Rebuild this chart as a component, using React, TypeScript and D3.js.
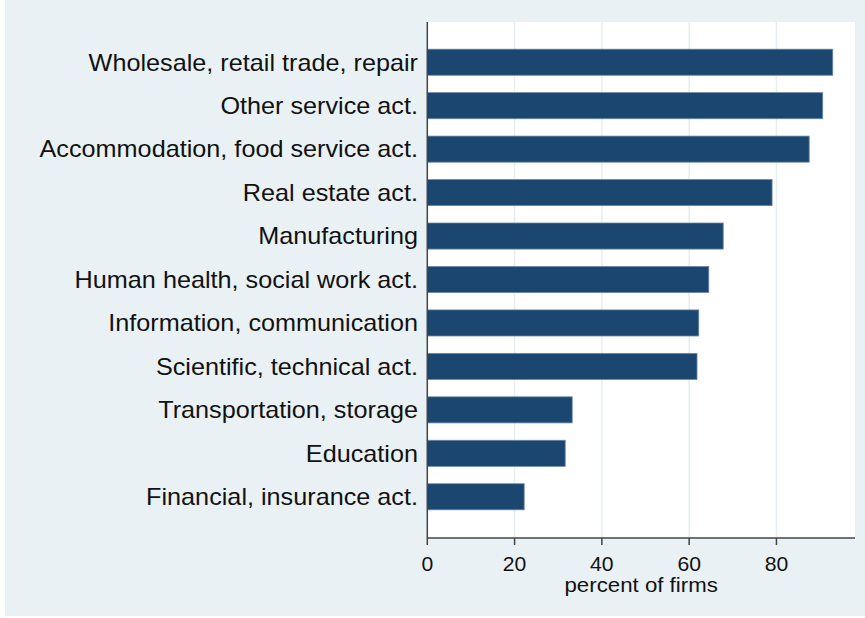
import React from "react";
import * as d3 from "d3";

const categories = [
  "Wholesale, retail trade, repair",
  "Other service act.",
  "Accommodation, food service act.",
  "Real estate act.",
  "Manufacturing",
  "Human health, social work act.",
  "Information, communication",
  "Scientific, technical act.",
  "Transportation, storage",
  "Education",
  "Financial, insurance act.",
];
const values = [92.9, 90.6, 87.5, 79.0, 67.8, 64.5, 62.2, 61.8, 33.2, 31.6, 22.2];
const xTicks = [0, 20, 40, 60, 80];
const xTitle = "percent of firms";

const W = 865;
const H = 618;
const plot = { left: 427.3, right: 855, top: 22, bottom: 538 };
const SX = 1.06;

function SText({ x, y, anchor, size, children }: { x: number; y: number; anchor: string; size: number; children: React.ReactNode }) {
  return (
    <text
      transform={`translate(${x},${y}) scale(${SX},1)`}
      textAnchor={anchor}
      fontSize={size}
      fill="#111"
    >
      {children}
    </text>
  );
}

export default function App() {
  const x = d3.scaleLinear().domain([0, 98]).range([plot.left, plot.right]);
  const y = d3
    .scaleBand<string>()
    .domain(categories)
    .range([plot.top + 18.5, plot.bottom - 19.5])
    .paddingInner(0.4)
    .paddingOuter(0.2);
  const font = "'Liberation Sans', Arial, sans-serif";
  return (
    <svg
      width={W}
      height={H}
      style={{ position: "absolute", left: 0, top: 0 }}
      fontFamily={font}
    >
      <rect x={0} y={0} width={W} height={H} fill="#ffffff" />
      <rect x={5} y={0} width={W - 5} height={H - 2} fill="#e9f1f4" />
      <rect
        x={plot.left}
        y={plot.top}
        width={plot.right - plot.left}
        height={plot.bottom - plot.top}
        fill="#ffffff"
      />
      {xTicks.slice(1).map((t) => (
        <line
          key={"g" + t}
          x1={x(t)}
          x2={x(t)}
          y1={plot.top}
          y2={plot.bottom}
          stroke="#e6eef1"
          strokeWidth={1.5}
        />
      ))}
      {categories.map((c, i) => (
        <g key={c}>
          <rect
            x={x(0)}
            y={y(c)!}
            width={x(values[i]) - x(0)}
            height={y.bandwidth()}
            fill="#1a4670"
            stroke="#6b88a6"
            strokeWidth={0.8}
          />
          <SText x={418} y={y(c)! + y.bandwidth() / 2 + 8.3} anchor="end" size={23.8}>
            {c}
          </SText>
        </g>
      ))}
      <line x1={plot.left} x2={plot.left} y1={plot.top} y2={plot.bottom} stroke="#444" strokeWidth={1.5} />
      <line x1={plot.left} x2={plot.right} y1={plot.bottom} y2={plot.bottom} stroke="#444" strokeWidth={1.5} />
      {xTicks.map((t) => (
        <g key={"t" + t}>
          <line x1={x(t)} x2={x(t)} y1={plot.bottom} y2={plot.bottom + 7} stroke="#444" strokeWidth={1.5} />
          <SText x={x(t)} y={571} anchor="middle" size={20}>
            {t}
          </SText>
        </g>
      ))}
      <SText x={(plot.left + plot.right) / 2} y={592} anchor="middle" size={21}>
        {xTitle}
      </SText>
    </svg>
  );
}
